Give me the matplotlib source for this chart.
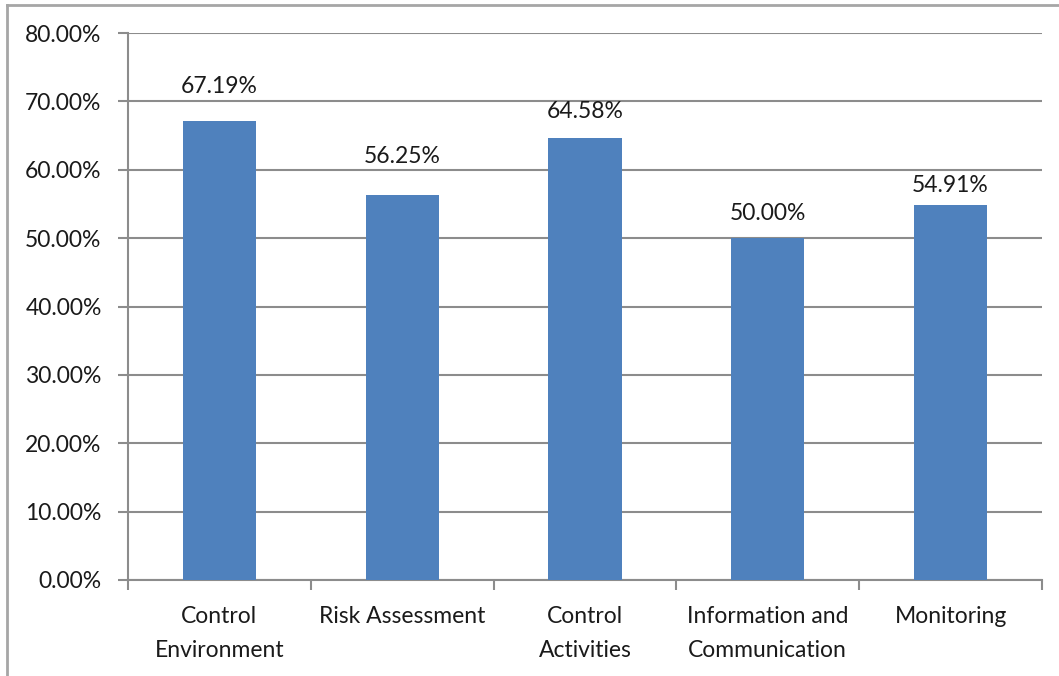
import matplotlib
matplotlib.use("Agg")
import matplotlib.pyplot as plt
from matplotlib.lines import Line2D
from matplotlib.ticker import FixedLocator, PercentFormatter

categories = ["Control\nEnvironment", "Risk Assessment", "Control\nActivities",
              "Information and\nCommunication", "Monitoring"]
values = [67.19, 56.25, 64.58, 50.00, 54.91]
y_ticks = [0, 10, 20, 30, 40, 50, 60, 70, 80]

# gap (points) between each bar top and the baseline of its value label
label_gaps = [20, 23, 14.5, 13, 9]

plt.rcParams["font.family"] = ["Lato", "DejaVu Sans"]
text_color = "#1a1a1a"
grid_color = "#8c8c8c"
bar_color = "#4f81bd"
fs = 16.5

fig = plt.figure(figsize=(10.59, 6.76), dpi=100)
ax = fig.add_axes([128 / 1059, 1 - 580 / 676, (1042 - 128) / 1059, (580 - 33) / 676])

x = list(range(len(categories)))
bars = ax.bar(x, values, width=0.40, color=bar_color, zorder=3)

for xi, v, gap in zip(x, values, label_gaps):
    ax.annotate(f"{v:.2f}%", (xi, v), xytext=(0, gap), textcoords="offset points",
                ha="center", va="baseline", fontsize=fs, color=text_color)

ax.set_xlim(-0.5, len(categories) - 0.5)
ax.set_ylim(0, 80)
ax.yaxis.set_major_locator(FixedLocator(y_ticks))
ax.yaxis.set_major_formatter(PercentFormatter(decimals=2))
ax.grid(axis="y", color=grid_color, linewidth=1.5, zorder=0)

ax.set_xticks(x)
ax.set_xticklabels(categories, fontsize=fs, color=text_color, linespacing=1.72)
ax.tick_params(axis="x", which="major", length=0, pad=19)
ax.set_xticks([i - 0.5 for i in range(len(categories) + 1)], minor=True)
ax.tick_params(axis="x", which="minor", length=7, width=1.5, color=grid_color)
ax.tick_params(axis="y", length=7, width=1.5, color=grid_color, pad=12,
               labelsize=fs, labelcolor=text_color)

for side in ("top", "right"):
    ax.spines[side].set_visible(False)
for side in ("left", "bottom"):
    ax.spines[side].set_color(grid_color)
    ax.spines[side].set_linewidth(1.5)

# outer chart frame
fig.add_artist(Line2D([7 / 1059, 1], [1 - 5 / 676, 1 - 5 / 676],
                      transform=fig.transFigure, color="#a6a6a6", linewidth=2))
fig.add_artist(Line2D([7 / 1059, 7 / 1059], [0, 1 - 5 / 676],
                      transform=fig.transFigure, color="#a6a6a6", linewidth=2))

fig.savefig("out.png", dpi=100)
